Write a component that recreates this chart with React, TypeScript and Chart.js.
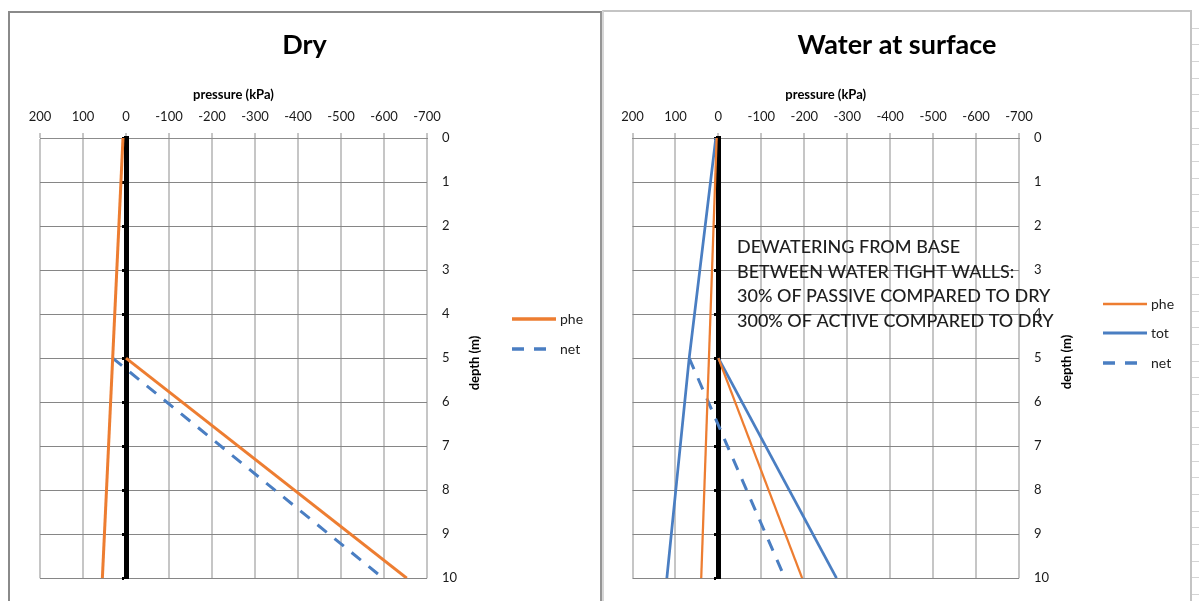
import React, { useEffect, useRef } from 'react';
import { Chart, registerables } from 'chart.js';

Chart.register(...registerables);

const FONT = 'Lato, "Open Sans", "Liberation Sans", sans-serif';
const ORANGE = '#ED7D31';
const BLUE = '#4A7EC2';
const DASH = [12, 10];

// pressure axis (kPa), drawn reversed: +200 on the left, -700 on the right
const PRESSURE_MIN = -700;
const PRESSURE_MAX = 200;
const PRESSURE_STEP = 100;
// depth axis (m), drawn downward
const DEPTH_MIN = 0;
const DEPTH_MAX = 10;
const DEPTH_STEP = 1;

// ---- Dry ----
const dryPassiveDepth = [0, 10];
const dryPhePassive = [7, 55];
const dryActiveDepth = [5, 10];
const dryPheActive = [0, -653];
const dryNetDepth = [5, 10];
const dryNet = [31, -598];

// ---- Water at surface ----
const wetPassiveDepth = [0, 10];
const wetPhePassive = [4, 40];
const wetTotPassiveDepth = [0, 5, 10];
const wetTotPassive = [6, 68, 120];
const wetActiveDepth = [5, 10];
const wetPheActive = [0, -195];
const wetTotActive = [0, -275];
const wetNetDepth = [5, 10];
const wetNet = [68, -155];

const noteLines = [
  'DEWATERING FROM BASE',
  'BETWEEN WATER TIGHT WALLS:',
  '30% OF PASSIVE COMPARED TO DRY',
  '300% OF ACTIVE COMPARED TO DRY',
];

function toPoints(depth: number[], value: number[]) {
  return depth.map((d, i) => ({ x: value[i], y: d }));
}

function lineDataset(label: string, depth: number[], value: number[], color: string, width: number, dash: number[] = []) {
  return {
    label,
    data: toPoints(depth, value),
    showLine: true,
    borderColor: color,
    backgroundColor: color,
    borderWidth: width,
    borderDash: dash,
    borderCapStyle: 'butt',
    pointRadius: 0,
    pointHoverRadius: 0,
    fill: false,
    tension: 0,
  };
}

type LegendItem = { label: string; color: string; width: number; dash: number[]; y: number };
type Decor = {
  yTitleX: number;
  yTitleY: number;
  legendX0: number;
  legendX1: number;
  legendTextX: number;
  legend: LegendItem[];
  notes?: { x: number; y0: number; step: number; lines: string[] };
};

function makeDecorPlugin(cfg: Decor) {
  return {
    id: 'decor',
    afterDraw(chart: any) {
      const ctx = chart.ctx as CanvasRenderingContext2D;
      ctx.save();
      ctx.fillStyle = '#000';
      ctx.font = `bold 13px ${FONT}`;
      ctx.textAlign = 'center';
      ctx.textBaseline = 'middle';
      ctx.translate(cfg.yTitleX, cfg.yTitleY);
      ctx.rotate(-Math.PI / 2);
      ctx.fillText('depth (m)', 0, 0);
      ctx.restore();

      ctx.save();
      for (const it of cfg.legend) {
        ctx.beginPath();
        ctx.strokeStyle = it.color;
        ctx.lineWidth = it.width;
        ctx.setLineDash(it.dash);
        ctx.lineCap = 'butt';
        ctx.moveTo(cfg.legendX0, it.y);
        ctx.lineTo(cfg.legendX1, it.y);
        ctx.stroke();
        ctx.setLineDash([]);
        ctx.fillStyle = '#222';
        ctx.font = `14px ${FONT}`;
        ctx.textAlign = 'left';
        ctx.textBaseline = 'middle';
        ctx.fillText(it.label, cfg.legendTextX, it.y);
      }
      ctx.restore();

      if (cfg.notes) {
        ctx.save();
        ctx.fillStyle = '#1e1e1e';
        ctx.font = `500 18px ${FONT}`;
        ctx.textAlign = 'left';
        ctx.textBaseline = 'alphabetic';
        cfg.notes.lines.forEach((t, i) => {
          ctx.fillText(t, cfg.notes!.x, cfg.notes!.y0 + i * cfg.notes!.step);
        });
        ctx.restore();
      }
    },
  };
}

function makeConfig(title: string, datasets: any[], padSide: number, yAxisWidth: number, decor: Decor) {
  return {
    type: 'scatter',
    data: { datasets },
    plugins: [makeDecorPlugin(decor)],
    options: {
      animation: false,
      responsive: false,
      events: [],
      layout: { padding: { left: padSide, right: padSide, top: 0, bottom: 16 } },
      plugins: {
        legend: { display: false },
        tooltip: { enabled: false },
        title: {
          display: true,
          text: title,
          color: '#000',
          font: { family: FONT, size: 27, weight: 'bold' },
          padding: { top: 16.2, bottom: 0 },
        },
      },
      scales: {
        x: {
          type: 'linear',
          position: 'top',
          reverse: true,
          min: PRESSURE_MIN,
          max: PRESSURE_MAX,
          ticks: {
            stepSize: PRESSURE_STEP,
            color: '#1a1a1a',
            font: { family: FONT, size: 13 },
            padding: 8,
            maxRotation: 0,
            autoSkip: false,
          },
          grid: {
            color: '#c6c6c6',
            lineWidth: 2,
            drawTicks: true,
            tickLength: 5,
            tickColor: '#8c8c8c',
            tickWidth: 1,
          },
          border: { display: true, color: '#8c8c8c', width: 1 },
          title: {
            display: true,
            text: 'pressure (kPa)',
            color: '#000',
            font: { family: FONT, size: 13, weight: 'bold' },
            padding: { top: 25.6, bottom: 0 },
          },
          afterFit: (s: any) => {
            s.height = 76.4;
          },
        },
        y: {
          type: 'linear',
          position: 'right',
          reverse: true,
          min: DEPTH_MIN,
          max: DEPTH_MAX,
          ticks: {
            stepSize: DEPTH_STEP,
            color: '#1a1a1a',
            font: { family: FONT, size: 13 },
            padding: 15,
          },
          grid: { color: '#868686', lineWidth: 1, drawTicks: false },
          border: { display: false },
          afterFit: (s: any) => {
            s.width = yAxisWidth;
          },
        },
        yAxisLine: {
          type: 'linear',
          position: { x: 0 },
          reverse: true,
          min: DEPTH_MIN,
          max: DEPTH_MAX,
          ticks: { stepSize: DEPTH_STEP, display: false },
          grid: {
            drawOnChartArea: false,
            drawTicks: true,
            tickLength: 2,
            tickWidth: 3,
            tickColor: '#000',
          },
          border: { display: true, color: '#000', width: 5 },
        },
      },
    },
  };
}

function ChartBox(props: { left: number; top: number; width: number; height: number; make: () => any }) {
  const ref = useRef<HTMLCanvasElement>(null);
  useEffect(() => {
    const chart = new Chart(ref.current as HTMLCanvasElement, props.make());
    return () => chart.destroy();
  }, []);
  return (
    <canvas
      ref={ref}
      width={props.width}
      height={props.height}
      style={{ position: 'absolute', left: props.left, top: props.top, width: props.width, height: props.height }}
    />
  );
}

const makeDry = () =>
  makeConfig(
    'Dry',
    [
      lineDataset('phe', dryPassiveDepth, dryPhePassive, ORANGE, 3),
      lineDataset('phe', dryActiveDepth, dryPheActive, ORANGE, 3),
      lineDataset('net', dryNetDepth, dryNet, BLUE, 3, DASH),
    ],
    30,
    142,
    {
      yTitleX: 465,
      yTitleY: 350,
      legendX0: 502,
      legendX1: 546,
      legendTextX: 550,
      legend: [
        { label: 'phe', color: ORANGE, width: 3.5, dash: [], y: 306 },
        { label: 'net', color: BLUE, width: 3.5, dash: DASH, y: 336 },
      ],
    }
  );

const makeWet = () =>
  makeConfig(
    'Water at surface',
    [
      lineDataset('phe', wetPassiveDepth, wetPhePassive, ORANGE, 2.25),
      lineDataset('phe', wetActiveDepth, wetPheActive, ORANGE, 2.25),
      lineDataset('tot', wetTotPassiveDepth, wetTotPassive, BLUE, 2.75),
      lineDataset('tot', wetActiveDepth, wetTotActive, BLUE, 2.75),
      lineDataset('net', wetNetDepth, wetNet, BLUE, 3, DASH),
    ],
    28.5,
    142.5,
    {
      yTitleX: 463,
      yTitleY: 349,
      legendX0: 499,
      legendX1: 543,
      legendTextX: 547,
      legend: [
        { label: 'phe', color: ORANGE, width: 2.5, dash: [], y: 291 },
        { label: 'tot', color: BLUE, width: 3, dash: [], y: 320 },
        { label: 'net', color: BLUE, width: 3.5, dash: DASH, y: 350 },
      ],
      notes: { x: 133, y0: 240, step: 24.7, lines: noteLines },
    }
  );

export default function App() {
  const sheetLines = Array.from({ length: 35 }, (_, i) => 27.7 + i * 16.65).filter((y) => y < 601);
  return (
    <div
      style={{
        position: 'absolute',
        left: 0,
        top: 0,
        width: 1199,
        height: 601,
        background: '#fff',
        overflow: 'hidden',
      }}
    >
      <div
        style={{
          position: 'absolute',
          left: 8,
          top: 11,
          width: 594,
          height: 620,
          boxSizing: 'border-box',
          borderTop: '2px solid #8a8a8a',
          borderLeft: '2px solid #8a8a8a',
          borderRight: '2px solid #959595',
        }}
      />
      <div
        style={{
          position: 'absolute',
          left: 602,
          top: 10,
          width: 590,
          height: 620,
          boxSizing: 'border-box',
          borderTop: '2px solid #c4c4c4',
          borderLeft: '2px solid #d6d6d6',
          borderRight: '2px solid #c4c4c4',
        }}
      />
      {sheetLines.map((y, i) => (
        <div
          key={i}
          style={{ position: 'absolute', left: 1192, top: Math.round(y), width: 7, height: 1, background: '#d4d4d4' }}
        />
      ))}
      <ChartBox left={10} top={13} width={589} height={588} make={makeDry} />
      <ChartBox left={604} top={13} width={586} height={588} make={makeWet} />
    </div>
  );
}
